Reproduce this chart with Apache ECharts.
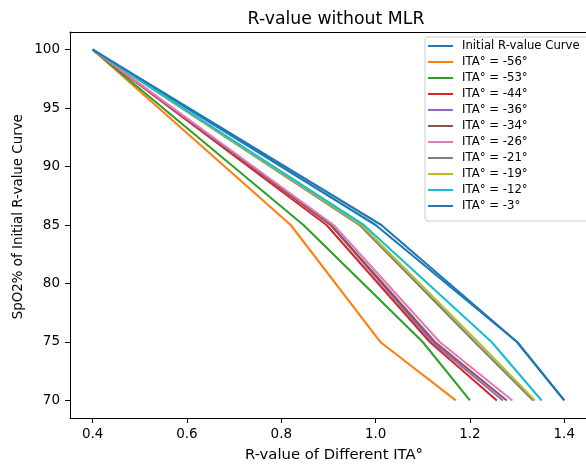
<!DOCTYPE html>
<html>
<head>
<meta charset="utf-8">
<script src="https://cdn.jsdelivr.net/npm/echarts@6/dist/echarts.min.js"></script>
<style>
html,body{margin:0;padding:0;background:#fff;}
#chart{width:586px;height:466px;}
</style>
</head>
<body>
<div id="chart"></div>
<script>
// SpO2 levels (y) where each curve has a vertex
var spo2 = [100, 85, 75, 70];
// R-values (x) per curve at those SpO2 levels
var initialCurve = [0.40, 1.00, 1.30, 1.40];
var ita56 = [0.40, 0.82, 1.01, 1.17];
var ita53 = [0.40, 0.847, 1.10, 1.20];
var ita44 = [0.40, 0.896, 1.115, 1.257];
var ita36 = [0.40, 0.905, 1.12, 1.27];
var ita34 = [0.40, 0.905, 1.126, 1.278];
var ita26 = [0.40, 0.911, 1.136, 1.29];
var ita21 = [0.40, 0.966, 1.21, 1.334];
var ita19 = [0.40, 0.970, 1.217, 1.338];
var ita12 = [0.40, 0.975, 1.246, 1.352];
var ita3 = [0.40, 1.012, 1.30, 1.40];

var seriesNames = ['Initial R-value Curve', 'ITA° = -56°', 'ITA° = -53°', 'ITA° = -44°', 'ITA° = -36°',
  'ITA° = -34°', 'ITA° = -26°', 'ITA° = -21°', 'ITA° = -19°', 'ITA° = -12°', 'ITA° = -3°'];
var seriesValues = [initialCurve, ita56, ita53, ita44, ita36, ita34, ita26, ita21, ita19, ita12, ita3];
var xTicks = [0.4, 0.6, 0.8, 1.0, 1.2, 1.4];
var yTicks = [70, 75, 80, 85, 90, 95, 100];

var colors = ['#1f77b4', '#ff7f0e', '#2ca02c', '#d62728', '#9467bd', '#8c564b',
  '#e377c2', '#7f7f7f', '#bcbd22', '#17becf', '#1f77b4'];

var FONT = 'DejaVu Sans';
var X_MIN = 0.352, X_MAX = 1.4461;

var series = seriesNames.map(function (name, i) {
  return {
    name: name,
    type: 'line',
    symbol: 'none',
    showSymbol: false,
    animation: false,
    xAxisIndex: 0,
    lineStyle: { width: 2.1, color: colors[i] },
    itemStyle: { color: colors[i] },
    data: seriesValues[i].map(function (x, j) { return [x, spo2[j]]; })
  };
});

var chart = echarts.init(document.getElementById('chart'), null, { renderer: 'canvas' });
chart.setOption({
  backgroundColor: '#ffffff',
  animation: false,
  color: colors,
  title: {
    text: 'R-value without MLR',
    left: 331,
    top: 6,
    textAlign: 'center',
    textStyle: { fontFamily: FONT, fontSize: 17.3, fontWeight: 'normal', color: '#000' }
  },
  graphic: [
    {
      type: 'text',
      x: 19, y: 216.7,
      rotation: Math.PI / 2,
      style: {
        text: 'SpO2% of Initial R-value Curve',
        fontFamily: FONT, fontSize: 13.4, fill: '#000',
        textAlign: 'center', textVerticalAlign: 'middle'
      }
    },
    {
      type: 'text',
      x: 334, y: 455,
      style: {
        text: 'R-value of Different ITA°',
        fontFamily: FONT, fontSize: 14.8, fill: '#000',
        textAlign: 'center', textVerticalAlign: 'middle'
      }
    }
  ],
  legend: {
    orient: 'vertical',
    left: 425,
    top: 37,
    padding: [2, 14, 8, 3],
    itemGap: 2,
    itemWidth: 25,
    itemHeight: 2,
    icon: 'rect',
    backgroundColor: 'rgba(255,255,255,0.8)',
    borderColor: '#cccccc',
    borderWidth: 1,
    borderRadius: 3,
    textStyle: { fontFamily: FONT, fontSize: 11.7, lineHeight: 14, color: '#000', padding: [0, 0, 0, 4] },
    data: seriesNames
  },
  grid: { left: 70, top: 32, right: 0, height: 386, containLabel: false },
  xAxis: [{
    type: 'value',
    min: X_MIN,
    max: X_MAX,
    splitLine: { show: false },
    axisLine: { show: true, onZero: false, lineStyle: { color: '#000', width: 1 } },
    axisTick: { show: true, length: 5, lineStyle: { color: '#000', width: 1 }, customValues: xTicks },
    axisLabel: {
      fontFamily: FONT, fontSize: 13.5, color: '#000', margin: 9,
      customValues: xTicks,
      formatter: function (v) { return v.toFixed(1); }
    }
  }, {
    type: 'value',
    position: 'top',
    min: X_MIN,
    max: X_MAX,
    splitLine: { show: false },
    axisLine: { show: true, onZero: false, lineStyle: { color: '#000', width: 1 } },
    axisTick: { show: false },
    axisLabel: { show: false }
  }],
  yAxis: {
    type: 'value',
    min: 68.5,
    max: 101.5,
    splitLine: { show: false },
    axisLine: { show: true, onZero: false, lineStyle: { color: '#000', width: 1 } },
    axisTick: { show: true, length: 5, lineStyle: { color: '#000', width: 1 }, customValues: yTicks },
    axisLabel: {
      fontFamily: FONT, fontSize: 13.5, color: '#000', margin: 10,
      customValues: yTicks,
      formatter: function (v) { return String(Math.round(v)); }
    }
  },
  series: series
});
</script>
</body>
</html>
